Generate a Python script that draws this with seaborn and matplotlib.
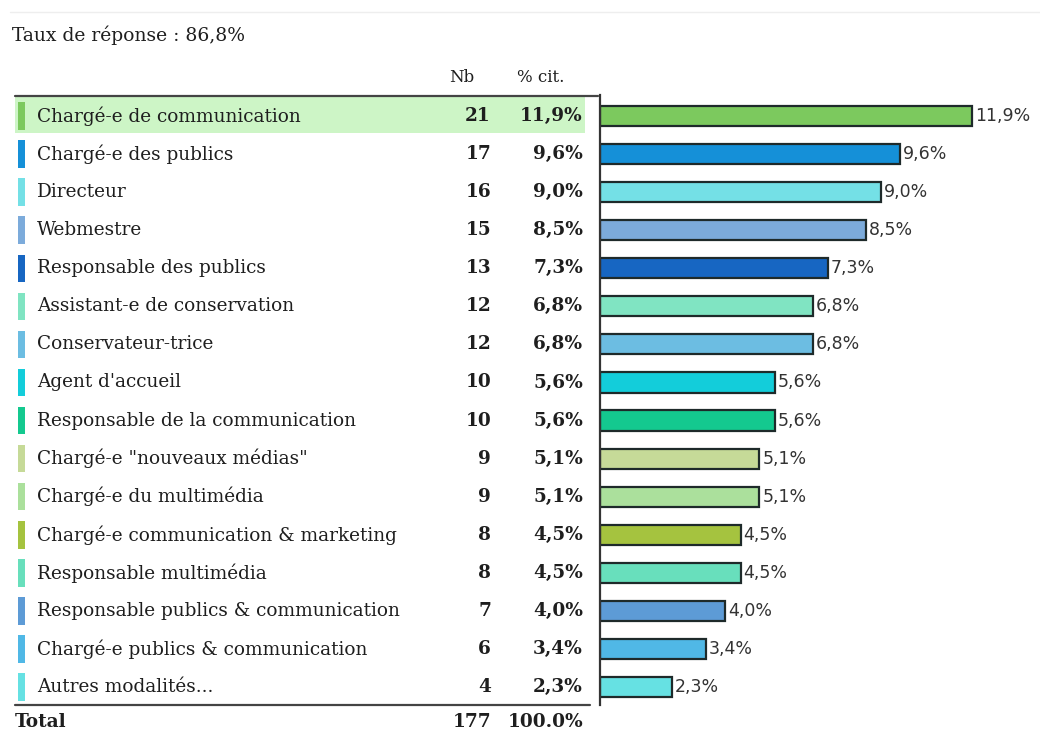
import matplotlib
matplotlib.use("Agg")
import matplotlib.pyplot as plt
import seaborn as sns
import pandas as pd
from matplotlib.patches import Rectangle

categories = [
    "Chargé-e de communication", "Chargé-e des publics", "Directeur", "Webmestre",
    "Responsable des publics", "Assistant-e de conservation", "Conservateur-trice",
    "Agent d'accueil", "Responsable de la communication", "Chargé-e \"nouveaux médias\"",
    "Chargé-e du multimédia", "Chargé-e communication & marketing", "Responsable multimédia",
    "Responsable publics & communication", "Chargé-e publics & communication", "Autres modalités...",
]
counts = [21, 17, 16, 15, 13, 12, 12, 10, 10, 9, 9, 8, 8, 7, 6, 4]
percents = [11.9, 9.6, 9.0, 8.5, 7.3, 6.8, 6.8, 5.6, 5.6, 5.1, 5.1, 4.5, 4.5, 4.0, 3.4, 2.3]
colors = ["#7cc95e", "#1590d8", "#74e0e6", "#7cabdb", "#1766c2", "#80e4c2", "#6cbde2",
          "#13cdda", "#14c98f", "#c6da98", "#abe09c", "#a5c33f", "#68dfbc", "#5d9bd6",
          "#50b8e6", "#66e1e3"]
total_n = 177
total_pct = "100.0%"
title_text = "Taux de réponse : 86,8%"

def fmt(p):
    return f"{p:.1f}".replace(".", ",") + "%"

W, H = 1040, 733
fig = plt.figure(figsize=(W / 100, H / 100), dpi=100)
sns.set_style("white")
plt.rcParams["font.family"] = ["DejaVu Serif", "DejaVu Sans"]

top_px, bot_px = 95, 705
ax_bottom = 1 - bot_px / H
ax_height = (bot_px - top_px) / H
xsplit = 600
ylim = (15.47, -0.55)

# Bar axes
ax = fig.add_axes([xsplit / W, ax_bottom, (W - xsplit) / W, ax_height])
df = pd.DataFrame({"cat": categories, "pct": percents})
sns.barplot(data=df, x="pct", y="cat", hue="cat", palette=colors, orient="h",
            ax=ax, width=0.53, edgecolor="#1e2a2a", linewidth=1.6, legend=False,
            dodge=False, saturation=1)
ax.set_xlim(0, (W - xsplit) / 31.26)
ax.set_ylim(*ylim)
ax.set_xticks([]); ax.set_yticks([])
ax.set_xlabel(""); ax.set_ylabel("")
for s in ["top", "right", "bottom"]:
    ax.spines[s].set_visible(False)
ax.spines["left"].set_color("#333333")
ax.spines["left"].set_linewidth(1.6)
for cont, p in zip(ax.containers, percents):
    ax.bar_label(cont, labels=[fmt(p)], padding=2, fontsize=12.5,
                 color="#333333", family="DejaVu Sans")

# Table axes
tab = fig.add_axes([0, ax_bottom, xsplit / W, ax_height])
tab.set_xlim(0, xsplit)
tab.set_ylim(*ylim)
tab.axis("off")

tab.add_patch(Rectangle((15, -0.5), 570, 0.95, facecolor="#cdf5c6", edgecolor="none", zorder=0))
fs = 13.3
tc = "#1e1e1e"
for i, (c, n, p, col) in enumerate(zip(categories, counts, percents, colors)):
    tab.add_patch(Rectangle((18, i - 0.36), 7, 0.72, facecolor=col, edgecolor="none", zorder=1))
    tab.text(37, i, c, va="center", ha="left", fontsize=fs, color=tc)
    tab.text(491, i, str(n), va="center", ha="right", fontsize=fs, fontweight="bold", color=tc)
    tab.text(583, i, fmt(p), va="center", ha="right", fontsize=fs, fontweight="bold", color=tc)

tab.text(462, -1.0, "Nb", va="center", ha="center", fontsize=12, color=tc)
tab.text(541, -1.0, "% cit.", va="center", ha="center", fontsize=12, color=tc)
tab.plot([15, 598], [-0.525, -0.525], color="#444444", lw=1.6, clip_on=False)
tab.plot([15, 590], [15.47, 15.47], color="#444444", lw=1.6, clip_on=False)
tab.text(15, 15.92, "Total", va="center", ha="left", fontsize=fs, fontweight="bold", color=tc)
tab.text(491, 15.92, str(total_n), va="center", ha="right", fontsize=fs, fontweight="bold", color=tc)
tab.text(583, 15.92, total_pct, va="center", ha="right", fontsize=fs, fontweight="bold", color=tc)

fig.text(12 / W, 1 - 35 / H, title_text, va="center", ha="left", fontsize=13.5, color=tc)
fig.add_artist(plt.Line2D([10 / W, 1], [1 - 12 / H, 1 - 12 / H], color="#eeeeee", lw=1))

fig.savefig("out.png", dpi=100)
